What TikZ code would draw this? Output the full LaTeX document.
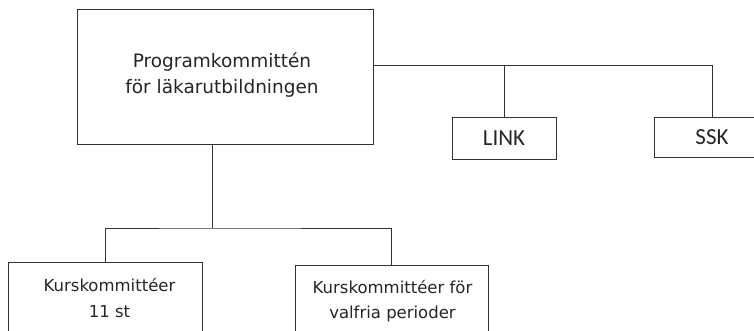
\documentclass[tikz,border=0pt]{standalone}
\usepackage{fontspec}
\setmainfont{DejaVu Sans}
\newfontfamily\boxfont{Carlito}
\definecolor{ln}{HTML}{333333}
\begin{document}
\begin{tikzpicture}[x=1pt,y=-1pt,
  box/.style={draw=ln,line width=0.9pt,rectangle,inner sep=0pt},
  txt/.style={align=center,inner sep=0pt,text=black!85},
  conn/.style={draw=ln,line width=0.9pt}]
\useasboundingbox (0,0) rectangle (754,331);
\clip (0,0) rectangle (754,331);
\fill[white] (0,0) rectangle (754,331);
% main box
\node[box,minimum width=296pt,minimum height=135pt] (main) at (225,76.5) {};
\node[txt,font=\fontsize{18.5}{26}\selectfont] (maint) at (222,75) {Programkommittén\\för läkarutbildningen};
% right boxes
\node[box,minimum width=104pt,minimum height=42pt,text=black!85,font=\boxfont\fontsize{23}{26}\selectfont] (link) at (504,138) {LINK};
\node[box,minimum width=116pt,minimum height=40pt,text=black!85,font=\boxfont\fontsize{23}{26}\selectfont] (ssk) at (712,137) {SSK};
% bottom boxes
\node[box,minimum width=194pt,minimum height=90pt,anchor=north] (kk) at (105,262) {};
\node[txt,font=\fontsize{16.5}{26}\selectfont] (kkt) at (109.5,298) {Kurskommittéer\\11 st};
\node[box,minimum width=193pt,minimum height=90pt,anchor=north] (kv) at (391.5,265) {};
\node[txt,font=\fontsize{16.5}{25}\selectfont] (kvt) at (392.5,301.5) {Kurskommittéer för\\valfria perioder};
% connectors
\coordinate (jr) at (712,65);
\coordinate (jb) at (212,228);
\draw[conn] (main.east |- jr) -- (jr) -- (ssk.north);
\draw[conn] (link.north) -- (link.north |- jr);
\draw[conn] (main.south -| jb) -- (jb);
\draw[conn] (kk.north) |- (jb) -| (kv.north);
\end{tikzpicture}
\end{document}
